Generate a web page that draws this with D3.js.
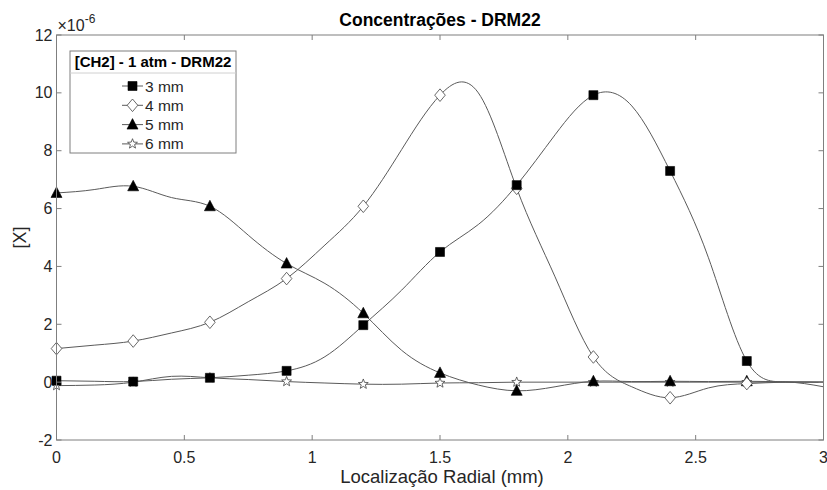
<!DOCTYPE html>
<html>
<head>
<meta charset="utf-8">
<script src="https://cdn.jsdelivr.net/npm/d3@7"></script>
<style>
  html, body { margin: 0; padding: 0; background: #fff; }
  svg { display: block; }
  text { font-family: "Liberation Sans", Arial, Helvetica, sans-serif; }
</style>
</head>
<body>
<svg id="chart" width="827" height="490"></svg>
<script>
// Radial positions (mm) of the profile samples; markers sit on every other sample
const positions = [0, 0.15, 0.3, 0.45, 0.6, 0.75, 0.9, 1.05, 1.2, 1.35, 1.5,
                   1.65, 1.8, 1.95, 2.1, 2.25, 2.4, 2.55, 2.7, 2.85, 3.0];
const markerPositions = [0, 0.3, 0.6, 0.9, 1.2, 1.5, 1.8, 2.1, 2.4, 2.7];

// [CH2] concentration profiles (×10^-6) per height above burner
const conc3mm = [0.05, 0.03, 0.02, 0.1, 0.15, 0.24, 0.39, 0.88, 1.97, 3.18, 4.5,
                 5.45, 6.81, 8.55, 9.92, 9.55, 7.3, 4.3, 0.73, 0.01, -0.16];
const conc4mm = [1.16, 1.28, 1.42, 1.7, 2.07, 2.78, 3.58, 4.74, 6.08, 8.04, 9.92,
                 10.0, 6.7, 3.64, 0.87, -0.16, -0.54, -0.2, -0.05, 0.0, 0.0];
const conc5mm = [6.54, 6.66, 6.77, 6.38, 6.08, 5.08, 4.1, 3.41, 2.38, 1.1, 0.32,
                 -0.1, -0.3, -0.16, 0.03, 0.02, 0.03, 0.02, 0.03, 0.01, 0.0];
const conc6mm = [-0.12, -0.1, 0.0, 0.2, 0.15, 0.09, 0.02, -0.03, -0.07, -0.07, -0.03,
                 -0.02, 0.0, 0.0, 0.0, 0.0, 0.0, 0.0, 0.0, 0.0, 0.0];

const seriesNames = ["3 mm", "4 mm", "5 mm", "6 mm"];
const markerKinds = ["square", "diamond", "triangle", "star"];

const xTicks = [0, 0.5, 1, 1.5, 2, 2.5, 3];
const xTickLabels = ["0", "0.5", "1", "1.5", "2", "2.5", "3"];
const yTicks = [-2, 0, 2, 4, 6, 8, 10, 12];

const titleText = "Concentrações - DRM22";
const xLabelText = "Localização Radial (mm)";
const yLabelText = "[X]";
const legendTitle = "[CH2] - 1 atm - DRM22";

const svg = d3.select("#chart");
const W = 827, H = 490;
const margin = { left: 56.5, right: 3.5, top: 35, bottom: 50 };
const x = d3.scaleLinear().domain([0, 3]).range([margin.left, W - margin.right]);
const y = d3.scaleLinear().domain([-2, 12]).range([H - margin.bottom, margin.top]);

const axisGray = "#7f7f7f";
const textColor = "#262626";
const lineGray = "#5a5a5a";

svg.append("defs").append("clipPath").attr("id", "box")
  .append("rect")
  .attr("x", x(0)).attr("y", y(12))
  .attr("width", x(3) - x(0)).attr("height", y(-2) - y(12));

const seriesData = [conc3mm, conc4mm, conc5mm, conc6mm];

const line = d3.line()
  .x(d => x(d[0]))
  .y(d => y(d[1]))
  .curve(d3.curveNatural);

function markerPath(kind) {
  switch (kind) {
    case "square": return "M-4.5,-4.5H4.5V4.5H-4.5Z";
    case "diamond": return "M0,-6.3L5.3,0L0,6.3L-5.3,0Z";
    case "triangle": return "M0,-6L5.5,4.5H-5.5Z";
    case "star": {
      const pts = [];
      for (let i = 0; i < 10; i++) {
        const r = i % 2 === 0 ? 5.2 : 2.2;
        const a = -Math.PI / 2 + i * Math.PI / 5;
        pts.push([r * Math.cos(a), r * Math.sin(a)]);
      }
      return "M" + pts.map(p => p[0].toFixed(2) + "," + p[1].toFixed(2)).join("L") + "Z";
    }
  }
}
function markerStyle(sel, kind) {
  if (kind === "square" || kind === "triangle") {
    sel.attr("fill", "#000").attr("stroke", "#000").attr("stroke-width", 0.6);
  } else {
    sel.attr("fill", "#fff").attr("stroke", "#444").attr("stroke-width", 0.8);
  }
}

const plot = svg.append("g");

// Profile curves
const curves = plot.append("g").attr("clip-path", "url(#box)");
seriesData.forEach(vals => {
  const pts = positions.map((p, j) => [p, vals[j]]);
  curves.append("path")
    .attr("d", line(pts))
    .attr("fill", "none")
    .attr("stroke", lineGray)
    .attr("stroke-width", 1);
});

// Markers at the measured positions (6 mm drawn first, 3 mm on top)
for (let i = seriesData.length - 1; i >= 0; i--) {
  const vals = seriesData[i];
  const g = plot.append("g");
  markerPositions.forEach(p => {
    const j = positions.indexOf(p);
    const m = g.append("path")
      .attr("d", markerPath(markerKinds[i]))
      .attr("transform", `translate(${x(p)},${y(vals[j])})`);
    markerStyle(m, markerKinds[i]);
  });
}

// Axes box
const axes = svg.append("g");
axes.append("rect")
  .attr("x", x(0)).attr("y", y(12))
  .attr("width", x(3) - x(0)).attr("height", y(-2) - y(12))
  .attr("fill", "none").attr("stroke", axisGray).attr("stroke-width", 1);

// Inward ticks on all four sides
const tickLen = 5;
xTicks.forEach((t, k) => {
  axes.append("line").attr("x1", x(t)).attr("x2", x(t))
    .attr("y1", y(-2)).attr("y2", y(-2) - tickLen).attr("stroke", axisGray);
  axes.append("line").attr("x1", x(t)).attr("x2", x(t))
    .attr("y1", y(12)).attr("y2", y(12) + tickLen).attr("stroke", axisGray);
  axes.append("text")
    .attr("x", x(t)).attr("y", y(-2) + 23)
    .attr("text-anchor", "middle")
    .attr("font-size", 16).attr("fill", textColor)
    .text(xTickLabels[k]);
});
yTicks.forEach(t => {
  axes.append("line").attr("x1", x(0)).attr("x2", x(0) + tickLen)
    .attr("y1", y(t)).attr("y2", y(t)).attr("stroke", axisGray);
  axes.append("line").attr("x1", x(3)).attr("x2", x(3) - tickLen)
    .attr("y1", y(t)).attr("y2", y(t)).attr("stroke", axisGray);
  axes.append("text")
    .attr("x", x(0) - 4).attr("y", y(t) + 5.5)
    .attr("text-anchor", "end")
    .attr("font-size", 16).attr("fill", textColor)
    .text(t);
});

// Exponent label
const expo = axes.append("text")
  .attr("x", x(0) + 1).attr("y", 31)
  .attr("font-size", 16).attr("fill", textColor);
expo.append("tspan").text("×10");
expo.append("tspan").attr("dy", -8).attr("font-size", 12).text("-6");

// Title and axis labels
svg.append("text")
  .attr("x", (x(0) + x(3)) / 2).attr("y", 26)
  .attr("text-anchor", "middle")
  .attr("font-size", 17.5).attr("font-weight", "bold").attr("fill", "#000")
  .text(titleText);
svg.append("text")
  .attr("x", (x(0) + x(3)) / 2 + 2).attr("y", 483)
  .attr("text-anchor", "middle")
  .attr("font-size", 18.5).attr("fill", textColor)
  .text(xLabelText);
svg.append("text")
  .attr("transform", `translate(26,${y(5)}) rotate(-90)`)
  .attr("text-anchor", "middle")
  .attr("font-size", 18).attr("fill", textColor)
  .text(yLabelText);

// Legend
const lg = svg.append("g");
const lgX = 70, lgY = 51, lgW = 166, lgH = 102, lgTitleH = 22;
lg.append("rect").attr("x", lgX).attr("y", lgY).attr("width", lgW).attr("height", lgH)
  .attr("fill", "#fff").attr("stroke", axisGray).attr("stroke-width", 1);
lg.append("line").attr("x1", lgX).attr("x2", lgX + lgW)
  .attr("y1", lgY + lgTitleH).attr("y2", lgY + lgTitleH)
  .attr("stroke", "#d0d0d0");
lg.append("text")
  .attr("x", lgX + lgW / 2).attr("y", lgY + 16)
  .attr("text-anchor", "middle")
  .attr("font-size", 15).attr("font-weight", "bold").attr("fill", "#000")
  .text(legendTitle);
seriesNames.forEach((name, i) => {
  const cy = 86 + i * 19.3;
  lg.append("line").attr("x1", 122).attr("x2", 143).attr("y1", cy).attr("y2", cy)
    .attr("stroke", lineGray);
  const m = lg.append("path")
    .attr("d", markerPath(markerKinds[i]))
    .attr("transform", `translate(132.5,${cy})`);
  markerStyle(m, markerKinds[i]);
  lg.append("text")
    .attr("x", 145).attr("y", cy + 5.5)
    .attr("font-size", 15.5).attr("fill", textColor)
    .text(name);
});
</script>
</body>
</html>
